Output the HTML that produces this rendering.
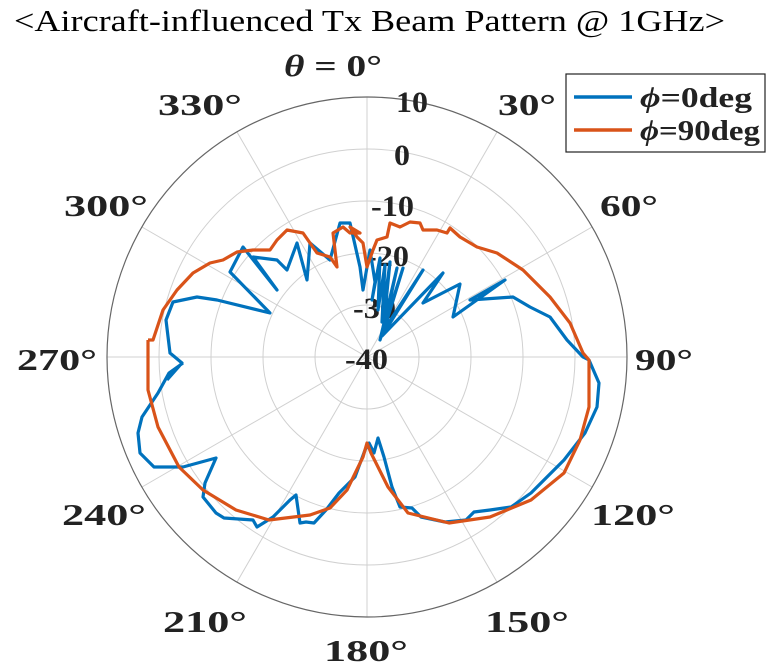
<!DOCTYPE html>
<html><head><meta charset="utf-8"><style>body{margin:0;background:#fff}svg{display:block}</style></head><body>
<svg width="768" height="666" viewBox="0 0 768 666" xmlns="http://www.w3.org/2000/svg" font-family="Liberation Serif, serif">
<text x="14" y="31" font-size="31" textLength="711" lengthAdjust="spacingAndGlyphs">&lt;Aircraft-influenced Tx Beam Pattern @ 1GHz&gt;</text>
<g fill="none" stroke="#d0d0d0" stroke-width="1">
<circle cx="367" cy="357" r="52"/><circle cx="367" cy="357" r="104"/><circle cx="367" cy="357" r="156"/><circle cx="367" cy="357" r="208"/>
<line x1="367" y1="97" x2="367" y2="617"/><line x1="107" y1="357" x2="627" y2="357"/>
<line x1="237" y1="132" x2="497" y2="582"/><line x1="497" y1="132" x2="237" y2="582"/>
<line x1="142" y1="227" x2="592" y2="487"/><line x1="592" y1="227" x2="142" y2="487"/>
</g>
<circle cx="367" cy="357" r="260" fill="none" stroke="#666" stroke-width="1.2"/>
<g font-weight="bold" font-size="31" fill="#222" lengthAdjust="spacingAndGlyphs">
<text x="158" y="115" textLength="84" lengthAdjust="spacingAndGlyphs">330°</text>
<text x="498" y="115" textLength="58" lengthAdjust="spacingAndGlyphs">30°</text>
<text x="64" y="216" textLength="84" lengthAdjust="spacingAndGlyphs">300°</text>
<text x="600" y="216" textLength="58" lengthAdjust="spacingAndGlyphs">60°</text>
<text x="17" y="370" textLength="80" lengthAdjust="spacingAndGlyphs">270°</text>
<text x="635" y="370" textLength="58" lengthAdjust="spacingAndGlyphs">90°</text>
<text x="62" y="525" textLength="84" lengthAdjust="spacingAndGlyphs">240°</text>
<text x="591" y="525" textLength="84" lengthAdjust="spacingAndGlyphs">120°</text>
<text x="163" y="632" textLength="84" lengthAdjust="spacingAndGlyphs">210°</text>
<text x="485" y="632" textLength="84" lengthAdjust="spacingAndGlyphs">150°</text>
<text x="324" y="661" textLength="84" lengthAdjust="spacingAndGlyphs">180°</text>
<text x="284" y="76" textLength="98" lengthAdjust="spacingAndGlyphs"><tspan font-style="italic">θ</tspan> = 0°</text>
</g>
<g font-weight="bold" font-size="30" fill="#222">
<text x="396" y="112" textLength="32" lengthAdjust="spacingAndGlyphs">10</text>
<text x="394" y="165" textLength="16" lengthAdjust="spacingAndGlyphs">0</text>
<text x="371" y="216" textLength="43" lengthAdjust="spacingAndGlyphs">-10</text>
<text x="366" y="266" textLength="43" lengthAdjust="spacingAndGlyphs">-20</text>
<text x="353" y="318" textLength="43" lengthAdjust="spacingAndGlyphs">-30</text>
<text x="345" y="369" textLength="43" lengthAdjust="spacingAndGlyphs">-40</text>
</g>
<polyline fill="none" stroke="#0072BD" stroke-width="3.2" stroke-linejoin="round" points="
167,380 182,363 170,353 166,320 173,302 197,297 217,300 270,313 230,272 243,247 277,290 253,257 277,260 287,270 297,243 307,280 310,243 330,260 340,223 350,223 360,267 363,290 370,250 375,282 372,300 380,258 378,310 385,265 382,322 390,262 383,332 397,268 380,340 403,268 384,330 423,270 382,336 443,273 423,303 460,284 453,317 505,280 470,300 513,297 530,307 550,317 567,340 583,357 589,360 599,383 597,407 585,433 564,460 531,493 511,507 490,510 474,512 466,520 445,522 421,517 412,508 400,507 392,487 384,457 378,438 374,453 369,443 365,450 355,477 339,493 326,510 314,523 306,522 300,523 296,495 290,500 273,517 257,527 253,520 224,518 216,513 203,497 205,483 216,458 183,467 154,467 140,453 138,433 142,417 158,393 169,373 183,363"/>
<polyline fill="none" stroke="#D95319" stroke-width="3.2" stroke-linejoin="round" points="
148,340 148,390 158,427 179,467 203,490 236,510 269,520 310,515 330,508 347,490 363,457 367,443 371,453 388,487 408,513 449,523 490,517 531,500 564,473 580,440 589,407 589,360 583,353 570,323 550,297 523,270 497,253 477,247 460,237 450,228 447,233 437,230 423,230 420,223 410,222 400,227 390,223 387,237 377,240 373,250 367,267 363,243 357,237 350,227 360,233 350,233 343,227 333,233 337,267 330,257 317,253 303,233 287,230 277,240 270,250 253,250 237,252 223,260 210,263 193,273 177,290 163,310 153,340 148,340"/>
<rect x="566" y="74" width="199" height="78" fill="#fff" stroke="#222" stroke-width="1.2"/>
<line x1="574" y1="97" x2="632" y2="97" stroke="#0072BD" stroke-width="3.5"/>
<line x1="574" y1="130" x2="632" y2="130" stroke="#D95319" stroke-width="3.5"/>
<g font-weight="bold" font-size="28" fill="#222">
<text x="640" y="107" textLength="112" lengthAdjust="spacingAndGlyphs"><tspan font-style="italic">ϕ</tspan>=0deg</text>
<text x="640" y="140" textLength="120" lengthAdjust="spacingAndGlyphs"><tspan font-style="italic">ϕ</tspan>=90deg</text>
</g>
</svg>
</body></html>
